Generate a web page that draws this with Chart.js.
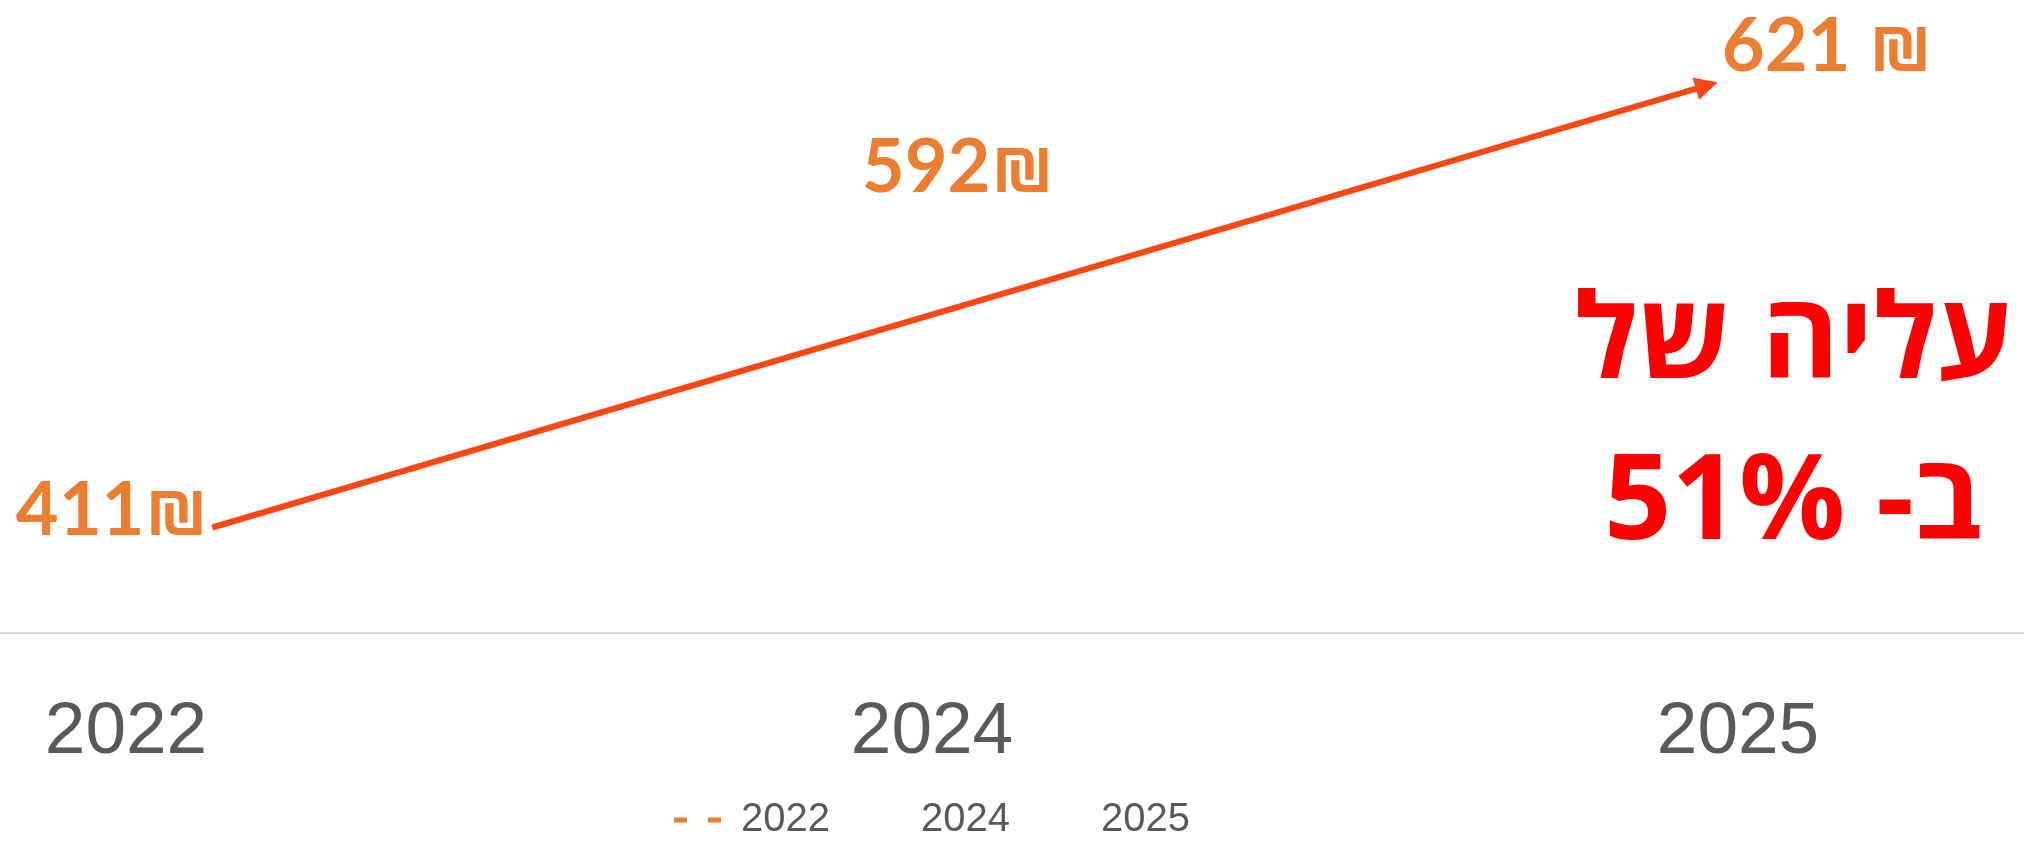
<!DOCTYPE html>
<html>
<head>
<meta charset="utf-8">
<script src="https://cdn.jsdelivr.net/npm/chart.js@4.4.0/dist/chart.umd.min.js"></script>
<style>
    html, body { margin: 0; padding: 0; background: #fff; overflow: hidden; width: 2024px; height: 843px; }
    /* plot area is wider than the picture, so the canvas sticks out on both sides */
    #wrap { position: absolute; left: -277px; top: 0; width: 2418px; height: 843px; }
</style>
</head>
<body>
<div id="wrap"><canvas id="priceChart" width="2418" height="843"></canvas></div>
<script>
// Data
const years = ['2022', '2024', '2025'];
const prices = [411, 592, 621];
const priceLabels = ['411₪', '592₪', '621 ₪'];
const calloutLines = ['עליה של', 'ב- 51%'];
// arrow shape, given as [category index, value]
const arrowFrom = [0.107, 400];
const arrowTo = [1.975, 611];

// Styles
const ORANGE = '#ED7D31';
const ARROW = '#FF4713';
const GREY = '#595959';
const labelShift = [[-14, 31], [26, 70], [89, 10]];   // dx, baseline dy from the point
const calloutPos = { x: 2070, y: [378, 539] };

const overlayPlugin = {
    id: 'overlay',
    afterDatasetsDraw(chart) {
        const ctx = chart.ctx;
        const xs = chart.scales.x;
        const ys = chart.scales.y;
        const meta = chart.getDatasetMeta(0);

        // arrow
        const x1 = xs.getPixelForValue(arrowFrom[0]);
        const y1 = ys.getPixelForValue(arrowFrom[1]);
        const x2 = xs.getPixelForValue(arrowTo[0]);
        const y2 = ys.getPixelForValue(arrowTo[1]);
        const ang = Math.atan2(y2 - y1, x2 - x1);
        const headLen = 23, headHalf = 11.5;
        const bx = x2 - Math.cos(ang) * headLen;
        const by = y2 - Math.sin(ang) * headLen;
        ctx.save();
        ctx.strokeStyle = ARROW;
        ctx.fillStyle = ARROW;
        ctx.lineWidth = 6;
        ctx.beginPath();
        ctx.moveTo(x1, y1);
        ctx.lineTo(bx + Math.cos(ang) * 4, by + Math.sin(ang) * 4);
        ctx.stroke();
        ctx.beginPath();
        ctx.moveTo(x2, y2);
        ctx.lineTo(bx - Math.sin(ang) * headHalf, by + Math.cos(ang) * headHalf);
        ctx.lineTo(bx + Math.sin(ang) * headHalf, by - Math.cos(ang) * headHalf);
        ctx.closePath();
        ctx.fill();

        // data labels
        ctx.font = 'bold 74px Lato, "Open Sans", sans-serif';
        ctx.fillStyle = ORANGE;
        ctx.textAlign = 'center';
        ctx.textBaseline = 'alphabetic';
        meta.data.forEach((pt, i) => {
            ctx.fillText(priceLabels[i], pt.x + labelShift[i][0], pt.y + labelShift[i][1]);
        });

        // callout text
        ctx.font = 'bold 118px "Open Sans", "Liberation Sans", sans-serif';
        ctx.fillStyle = '#FF0000';
        ctx.direction = 'rtl';
        calloutLines.forEach((line, i) => {
            ctx.fillText(line, calloutPos.x, calloutPos.y[i]);
        });
        ctx.restore();
    }
};

const config = {
    type: 'line',
    data: {
        labels: years,
        datasets: [{
            label: 'price',
            data: prices,
            showLine: false,
            pointRadius: 0,
            borderColor: ORANGE,
            backgroundColor: ORANGE
        }]
    },
    options: {
        responsive: false,
        animation: false,
        layout: { padding: { top: 0, bottom: -7, left: 0, right: 0 } },
        plugins: {
            tooltip: { enabled: false },
            legend: {
                position: 'bottom',
                labels: {
                    font: { family: '"Liberation Sans", Arial, sans-serif', size: 40 },
                    color: GREY,
                    usePointStyle: true,
                    pointStyleWidth: 47,
                    padding: 24,
                    generateLabels: () => years.map((y, i) => ({
                        text: y,
                        pointStyle: 'line',
                        strokeStyle: i === 0 ? ORANGE : 'rgba(0,0,0,0)',
                        fillStyle: 'rgba(0,0,0,0)',
                        fontColor: GREY,
                        lineWidth: 5,
                        lineDash: [13, 21],
                        hidden: false,
                        datasetIndex: 0
                    }))
                }
            }
        },
        scales: {
            x: {
                offset: true,
                grid: { display: false, drawTicks: false },
                border: { display: true, color: '#D9D9D9', width: 2 },
                ticks: {
                    font: { family: '"Liberation Sans", Arial, sans-serif', size: 73 },
                    color: GREY,
                    padding: 56
                },
                afterFit(scale) { scale.height = 143; }
            },
            y: {
                display: false,
                min: 350,
                max: 650
            }
        }
    },
    plugins: [overlayPlugin]
};

new Chart(document.getElementById('priceChart'), config);
</script>
</body>
</html>
